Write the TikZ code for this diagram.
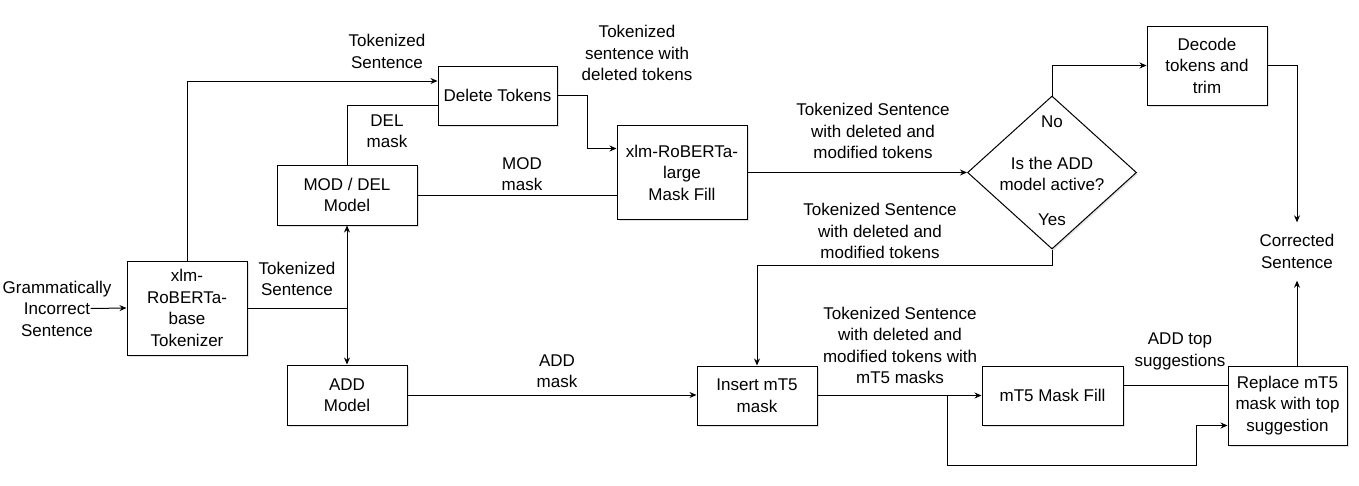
\documentclass[tikz,border=0pt]{standalone}
\usepackage{fontspec}
\setmainfont{Liberation Sans}
\usetikzlibrary{arrows.meta,shapes.geometric,shadows,calc}
\begin{document}
\begin{tikzpicture}[x=1pt,y=-1pt,
  every node/.style={font=\fontsize{17}{21.5}\selectfont, align=center, inner sep=0pt},
  box/.style={draw, line width=1pt, fill=white, minimum width=120pt, minimum height=60pt,
    drop shadow={shadow xshift=1.5pt,shadow yshift=-1.5pt,opacity=0.22}},
  decision/.style={draw, line width=1pt, fill=white, shape=diamond, aspect=1.1,
    minimum width=169pt, minimum height=153pt,
    drop shadow={shadow xshift=1.5pt,shadow yshift=-1.5pt,opacity=0.22}},
  ln/.style={line width=1pt},
  arr/.style={line width=1pt,-{Stealth[length=7pt,width=6pt]}}
]
\useasboundingbox (0,0) rectangle (1359,485);

% boxes
\node[box, minimum height=94pt] (tok) at (187,308) {xlm-\\RoBERTa-\\base\\Tokenizer};
\node[box, minimum width=140pt] (modl) at (347,195) {MOD / DEL\\Model};
\node[box, minimum width=119pt, minimum height=59pt] (del) at (497.5,95.5) {Delete Tokens};
\node[box, minimum width=130pt, minimum height=94pt] (xlm) at (682,172.5) {xlm-RoBERTa-\\large\\Mask Fill};
\node[decision] (dia) at (1052,172.5) {};
\node (diat) at (1052,174) {Is the ADD\\model active?};
\node[box, minimum height=79pt] (dec) at (1207,65.5) {Decode\\tokens and\\trim};
\node[box] (add) at (347,395) {ADD\\Model};
\node[box, minimum height=59pt] (ins) at (757,395.5) {Insert mT5\\mask};
\node[box, minimum width=141pt, minimum height=59pt] (mfill) at (1052.5,395.5) {mT5 Mask Fill};
\node[box, minimum width=119pt, minimum height=79pt] (rep) at (1287.5,405.5) {Replace mT5\\mask with top\\suggestion};

% free texts
\node (gis) at (57,308.5) {Grammatically\\Incorrect\\Sentence};
\node[inner ysep=12pt] (corr) at (1297,251.5) {Corrected\\Sentence};

% labels
\node (l1) at (297,279) {Tokenized\\Sentence};
\node (l2) at (387,51.5) {Tokenized\\Sentence};
\node (l3) at (637,53) {Tokenized\\sentence with\\deleted tokens};
\node (l4) at (387,131) {DEL\\mask};
\node (l5) at (522,174) {MOD\\mask};
\node (l6) at (873,131) {Tokenized Sentence\\with deleted and\\modified tokens};
\node (l7) at (880,231) {Tokenized Sentence\\with deleted and\\modified tokens};
\node (l8) at (1052,122) {No};
\node (l9) at (1052,220) {Yes};
\node (l10) at (557,371) {ADD\\mask};
\node (l11) at (900,345.5) {Tokenized Sentence\\with deleted and\\modified tokens with\\mT5 masks};
\node (l12) at (1180,351.5) {ADD top\\suggestions};

% connectors
\draw[arr] ([xshift=-21pt]gis.east) -- (tok.west);
\draw[ln] (tok.east) -- (tok.east -| modl.south) coordinate (j);
\draw[arr] (j) -- (modl.south);
\draw[arr] (j) -- (add.north);
\draw[arr] (tok.north) |- ([yshift=14.5pt]del.west);
\draw[ln] (modl.north) |- ([yshift=-9.5pt]del.west);
\draw[ln] (modl.east) -- (modl.east -| xlm.west);
\draw[arr] (del.east) -- ++(30,0) |- ([yshift=24pt]xlm.west);
\draw[arr] (xlm.east) -- (xlm.east -| dia.west);
\draw[arr] (dia.north) |- (dec.west);
\draw[arr] (dec.east) -| (corr.north);
\draw[arr] (corr.south |- rep.north) -- (corr.south);
\draw[arr] (dia.south) -- ++(0,16) -| (ins.north);
\draw[arr] (add.east) -- (add.east -| ins.west);
\draw[arr] (ins.east) -- (mfill.west);
\draw[arr] ([xshift=130pt]ins.east) -- ++(0,70) -| ([xshift=-31pt,yshift=-20pt]rep.west) -- ([yshift=-20pt]rep.west);
\draw[ln] ([yshift=10pt]mfill.east) -- ([yshift=10pt]mfill.east -| rep.west);
\end{tikzpicture}
\end{document}
